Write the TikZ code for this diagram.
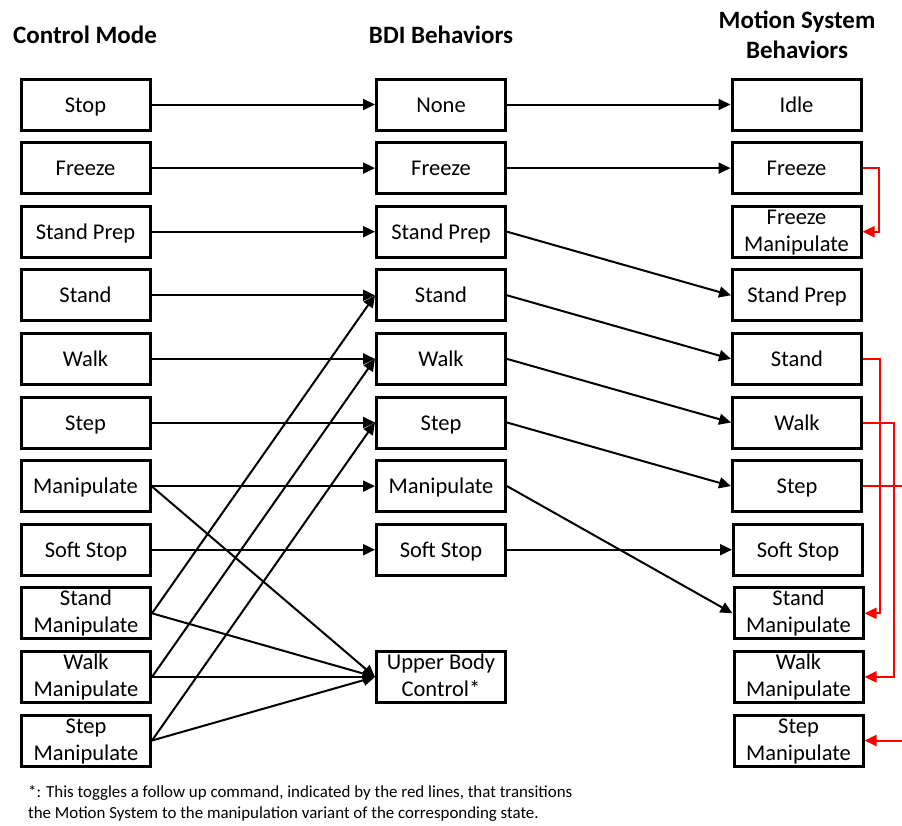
\documentclass[tikz,border=0pt]{standalone}
\usepackage{fontspec}
\setmainfont{Carlito}
\usetikzlibrary{arrows.meta}
\definecolor{fred}{RGB}{255,0,0}
\begin{document}
\begin{tikzpicture}[x=1pt,y=-1pt,
  box/.style={draw=black,line width=3pt,fill=white,minimum width=129pt,minimum height=51pt,inner sep=0pt,align=center,font=\fontsize{22.5}{27}\selectfont,text height=16pt,text depth=1pt},
  boxtwo/.style={draw=black,line width=3pt,fill=white,minimum width=129pt,minimum height=51pt,inner sep=0pt,align=center,font=\fontsize{22.5}{27}\selectfont,text height=40pt,text depth=1pt},
  hdr/.style={font=\bfseries\fontsize{25}{30}\selectfont,align=center,inner sep=0pt},
  note/.style={font=\fontsize{16.9}{20}\selectfont,anchor=west,inner sep=0pt},
  conn/.style={line width=2pt,-{Triangle[length=12pt,width=11pt]}},
  redconn/.style={line width=2pt,draw=fred,-{Triangle[length=12pt,width=11pt]}},
  redline/.style={line width=2pt,draw=fred}]
\useasboundingbox (0,0) rectangle (902,825);

% headers
\node[hdr] (h1) at (85,35) {Control Mode};
\node[hdr] (h2) at (441,35) {BDI Behaviors};
\node[hdr] (h3) at (797,35) {Motion System\\Behaviors};

% left column
\node[box] (lStop) at (85.5,104.5) {Stop};
\node[box] (lFreeze) at (85.5,168.1) {Freeze};
\node[box] (lStandPrep) at (85.5,231.7) {Stand Prep};
\node[box] (lStand) at (85.5,295.3) {Stand};
\node[box] (lWalk) at (85.5,358.9) {Walk};
\node[box] (lStep) at (85.5,422.5) {Step};
\node[box] (lManip) at (85.5,486.1) {Manipulate};
\node[box] (lSoft) at (86,549.7) {Soft Stop};
\node[boxtwo] (lStandM) at (86,613.3) {Stand\\Manipulate};
\node[boxtwo] (lWalkM) at (86,676.9) {Walk\\Manipulate};
\node[boxtwo] (lStepM) at (86,740.5) {Step\\Manipulate};

% middle column
\node[box] (mNone) at (441,104.5) {None};
\node[box] (mFreeze) at (441,168.1) {Freeze};
\node[box] (mStandPrep) at (441,231.7) {Stand Prep};
\node[box] (mStand) at (441,295.3) {Stand};
\node[box] (mWalk) at (441,358.9) {Walk};
\node[box] (mStep) at (441,422.5) {Step};
\node[box] (mManip) at (441,486.1) {Manipulate};
\node[box] (mSoft) at (441,549.7) {Soft Stop};
\node[boxtwo] (mUBC) at (441,676.9) {Upper Body\\Control*};

% right column
\node[box] (rIdle) at (796.5,104.5) {Idle};
\node[box] (rFreeze) at (796.5,168.1) {Freeze};
\node[boxtwo] (rFreezeM) at (796.5,231.7) {Freeze\\Manipulate};
\node[box] (rStandPrep) at (797,295.3) {Stand Prep};
\node[box] (rStand) at (797,358.9) {Stand};
\node[box] (rWalk) at (797,422.5) {Walk};
\node[box] (rStep) at (797,486.1) {Step};
\node[box] (rSoft) at (798,549.7) {Soft Stop};
\node[boxtwo] (rStandM) at (798.5,613.3) {Stand\\Manipulate};
\node[boxtwo] (rWalkM) at (798.5,676.9) {Walk\\Manipulate};
\node[boxtwo] (rStepM) at (798.5,740.5) {Step\\Manipulate};

% left -> middle
\draw[conn] (lStop) -- (mNone);
\draw[conn] (lFreeze) -- (mFreeze);
\draw[conn] (lStandPrep) -- (mStandPrep);
\draw[conn] (lStand) -- (mStand);
\draw[conn] (lWalk) -- (mWalk);
\draw[conn] (lStep) -- (mStep);
\draw[conn] (lManip) -- (mManip);
\draw[conn] (lSoft) -- (mSoft);
\draw[conn] (lManip.east) -- (mUBC.west);
\draw[conn] (lStandM.east) -- (mStand.west);
\draw[conn] (lStandM.east) -- (mUBC.west);
\draw[conn] (lWalkM.east) -- (mWalk.west);
\draw[conn] (lWalkM.east) -- (mUBC.west);
\draw[conn] (lStepM.east) -- (mStep.west);
\draw[conn] (lStepM.east) -- (mUBC.west);

% middle -> right
\draw[conn] (mNone) -- (rIdle);
\draw[conn] (mFreeze) -- (rFreeze);
\draw[conn] (mStandPrep.east) -- (rStandPrep.west);
\draw[conn] (mStand.east) -- (rStand.west);
\draw[conn] (mWalk.east) -- (rWalk.west);
\draw[conn] (mStep.east) -- (rStep.west);
\draw[conn] (mManip.east) -- (rStandM.west);
\draw[conn] (mSoft) -- (rSoft);

% red follow-up lines
\coordinate (stepOut) at (902,486.1);
\coordinate (stepIn) at (902,740.5);
\draw[redconn] (rFreeze.east) -- ++(16,0) |- (rFreezeM.east);
\draw[redconn] (rStand.east) -- ++(17,0) |- (rStandM.east);
\draw[redconn] (rWalk.east) -- ++(31,0) |- (rWalkM.east);
\draw[redline] (rStep.east) -- (stepOut);
\draw[redconn] (stepIn) -- (rStepM.east);

% footnote
\node[note] (n1) at (28,793) {*: This toggles a follow up command, indicated by the red lines, that transitions};
\node[note] (n2) at (28,814) {the Motion System to the manipulation variant of the corresponding state.};
\end{tikzpicture}
\end{document}
